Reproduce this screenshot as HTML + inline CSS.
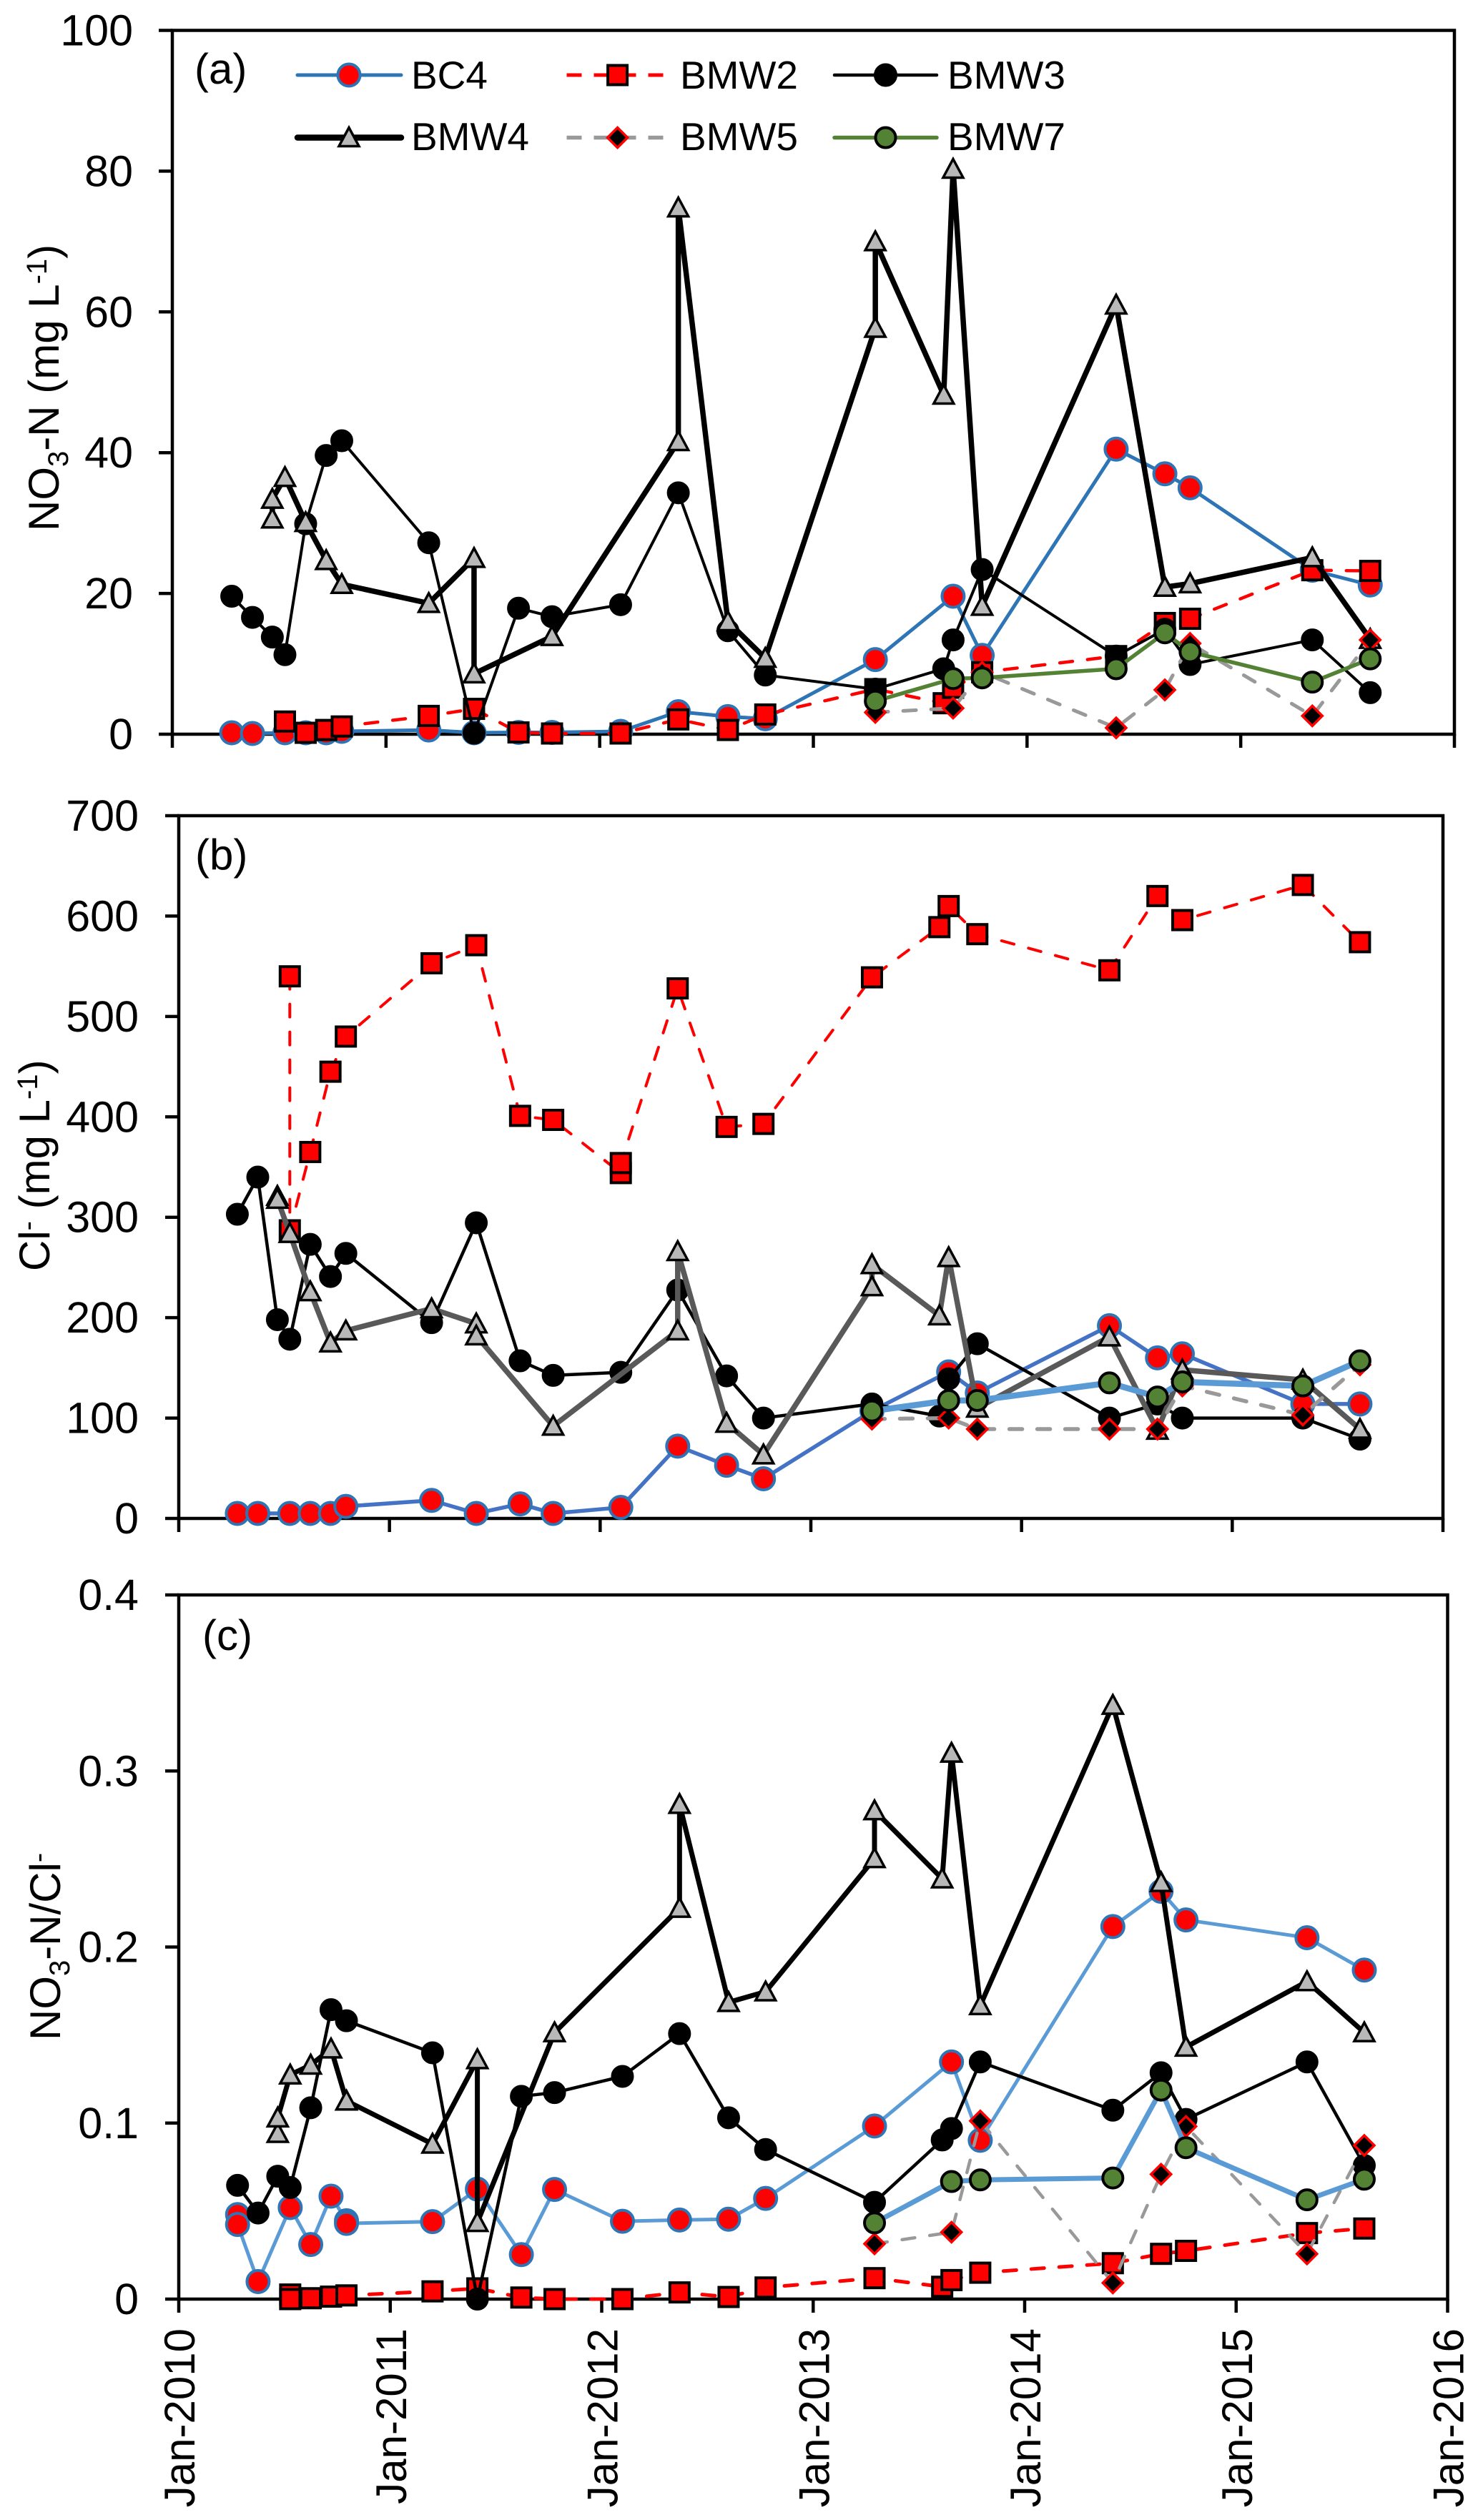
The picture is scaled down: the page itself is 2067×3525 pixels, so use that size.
<!DOCTYPE html>
<html lang="en">
<head>
<meta charset="utf-8">
<title>NO3-N and Cl time series</title>
<style>
  html, body { margin: 0; padding: 0; background: #fff; }
  svg { display: block; }
  text { font-family: "Liberation Sans", Arial, sans-serif; fill: #000; }
</style>
</head>
<body>
<svg id="chart" xmlns="http://www.w3.org/2000/svg" width="2067" height="3525" viewBox="0 0 2067 3525">
  <rect x="0" y="0" width="2067" height="3525" fill="#fff"/>

  <g id="panel-a"></g>
  <g id="panel-b"></g>
  <g id="panel-c"></g>

  <text x="272" y="117" font-size="60">(a)</text>
  <text x="273" y="1216" font-size="60">(b)</text>
  <text x="283" y="2308" font-size="60">(c)</text>

  <text transform="translate(82,743) rotate(-90)" font-size="60">NO<tspan font-size="40" dy="13">3</tspan><tspan dy="-13">-N (mg L</tspan><tspan font-size="40" dy="-17">-1</tspan><tspan dy="17">)</tspan></text>
  <text transform="translate(69,1778) rotate(-90)" font-size="60">Cl<tspan font-size="40" dy="-17">-</tspan><tspan dy="17"> (mg L</tspan><tspan font-size="40" dy="-17">-1</tspan><tspan dy="17">)</tspan></text>
  <text transform="translate(84,2854) rotate(-90)" font-size="60">NO<tspan font-size="40" dy="13">3</tspan><tspan dy="-13">-N/Cl</tspan><tspan font-size="40" dy="-17">-</tspan></text>

  <g>
    <g>
      <line x1="416" y1="105" x2="561" y2="105" stroke="#2E75B6" stroke-width="5" stroke-linecap="round"/>
      <circle cx="488" cy="105" r="15.5" fill="#f00" stroke="#2E75B6" stroke-width="4"/>
      <text x="575" y="124" font-size="55">BC4</text>
    </g>
    <g>
      <line x1="792.5" y1="105" x2="929.5" y2="105" stroke="#f00" stroke-width="5" stroke-dasharray="21 17"/>
      <rect x="850.1" y="91.5" width="27" height="27" fill="#f00" stroke="#000" stroke-width="4"/>
      <text x="951" y="124" font-size="55">BMW2</text>
    </g>
    <g>
      <line x1="1167" y1="105" x2="1310" y2="105" stroke="#000" stroke-width="4.5" stroke-linecap="round"/>
      <circle cx="1238.5" cy="105" r="15.5" fill="#000" stroke="#000" stroke-width="2"/>
      <text x="1325" y="124" font-size="55">BMW3</text>
    </g>
    <g>
      <line x1="416" y1="192.5" x2="561" y2="192.5" stroke="#000" stroke-width="8.5" stroke-linecap="round"/>
      <polygon points="488,178.5 502,204.5 474,204.5" fill="#B8B8B8" stroke="#000" stroke-width="3.5"/>
      <text x="575" y="210" font-size="55">BMW4</text>
    </g>
    <g>
      <line x1="792.5" y1="192.5" x2="929.5" y2="192.5" stroke="#999" stroke-width="5.5" stroke-dasharray="21 17"/>
      <polygon points="863.6,178.5 877.6,192.5 863.6,206.5 849.6,192.5" fill="#000" stroke="#f00" stroke-width="3.5"/>
      <text x="951" y="210" font-size="55">BMW5</text>
    </g>
    <g>
      <line x1="1167" y1="192.5" x2="1310" y2="192.5" stroke="#548235" stroke-width="5.5" stroke-linecap="round"/>
      <circle cx="1238.5" cy="192.5" r="14" fill="#548235" stroke="#000" stroke-width="4"/>
      <text x="1325" y="210" font-size="55">BMW7</text>
    </g>
  </g>
</svg>

<script>
// ---- Shared sample dates (decimal years) ----
const datesBC4 = [2010.278,2010.375,2010.527,2010.624,2010.72,2010.793,2011.2,2011.412,2011.62,2011.777,2012.098,2012.368,2012.6,2012.775,2013.29,2013.654,2013.79,2014.417,2014.645,2014.763,2015.335,2015.606];
const datesBC4C = [2010.278,2010.278,2010.375,2010.527,2010.624,2010.72,2010.793,2010.793,2011.2,2011.412,2011.62,2011.777,2012.098,2012.368,2012.6,2012.775,2013.29,2013.654,2013.79,2014.417,2014.645,2014.763,2015.335,2015.606];
const datesBMW2A = [2010.527,2010.624,2010.72,2010.793,2011.2,2011.412,2011.62,2011.777,2012.098,2012.368,2012.6,2012.775,2013.29,2013.61,2013.654,2013.79,2014.417,2014.645,2014.763,2015.335,2015.606];
const datesBMW2B = [2010.527,2010.527,2010.624,2010.72,2010.793,2011.2,2011.412,2011.62,2011.777,2012.098,2012.098,2012.368,2012.6,2012.775,2013.29,2013.61,2013.654,2013.79,2014.417,2014.645,2014.763,2015.335,2015.606];
const datesBMW2C = [2010.527,2010.527,2010.624,2010.72,2010.793,2011.2,2011.412,2011.62,2011.777,2012.098,2012.368,2012.6,2012.775,2013.29,2013.61,2013.654,2013.79,2014.417,2014.645,2014.763,2015.335,2015.606];
const datesBMW3 = [2010.278,2010.375,2010.468,2010.527,2010.624,2010.72,2010.793,2011.2,2011.412,2011.62,2011.777,2012.098,2012.368,2012.6,2012.775,2013.29,2013.61,2013.654,2013.79,2014.417,2014.645,2014.763,2015.335,2015.606];
const datesBMW4 = [2010.468,2010.468,2010.527,2010.624,2010.72,2010.793,2011.2,2011.412,2011.412,2011.777,2012.368,2012.368,2012.6,2012.775,2013.29,2013.29,2013.61,2013.654,2013.79,2014.417,2014.645,2014.763,2015.335,2015.606];
const datesBMW57 = [2013.29,2013.654,2013.79,2014.417,2014.645,2014.763,2015.335,2015.606];

// ---- Panel (a): NO3-N (mg/L) ----
const aBC4 = [0.2,0.1,0.2,0.2,0.2,0.4,0.6,0.2,0.25,0.25,0.4,3.2,2.5,2.2,10.6,19.6,11.2,40.5,37,35,23.3,21.2];
const aBMW2 = [1.8,0.2,0.6,1.1,2.6,3.6,0.25,0.1,0.1,2.1,0.6,2.8,6.4,4.4,6.6,8.8,11.1,15.8,16.4,23.3,23.2];
const aBMW3 = [19.6,16.6,13.8,11.3,29.9,39.6,41.7,27.2,0.15,17.9,16.7,18.4,34.3,14.7,8.4,6.4,9.3,13.4,23.4,11.1,14.9,9.9,13.4,5.9];
const aBMW4 = [30.6,33.4,36.5,30.1,24.7,21.3,18.6,25,8.6,13.9,41.6,74.8,16,10.8,57.7,70,48.2,80.3,18.2,61,20.9,21.4,25.1,13.5];
const aBMW5 = [3.1,3.7,8.8,0.9,6.3,12.9,2.6,13.4];
const aBMW7 = [4.7,7.9,8,9.3,14.4,11.7,7.4,10.7];

// ---- Panel (b): Cl (mg/L) ----
const bBC4 = [5,5,5,5,5,12,18,5,14.5,5,11,72,53,39.5,107,146,125,192,160,164,114,114];
const bBMW2 = [540,287,365,445,480,553,571,401,397,344,354,528,390,393,539,589,610,582,546,620,596,631,574];
const bBMW3 = [303,340,198,178.5,273,241,264,195,294.5,157,142.5,145.5,227.5,142,100,114,102,139,174,100,114,100,100,79];
const bBMW4 = [321,318,284,226,175,187,209,194,182,92,187,266,95,63.5,231,253,202,260,110,181,88,148,138,89];
const bBMW5 = [99,100,89,89,89,132,103,153];
const bBMW7 = [107,117.5,117.5,135,121,136,132,157];

// ---- Panel (c): NO3-N/Cl ratio ----
const cBC4 = [0.048,0.0424,0.00995,0.052,0.031,0.0585,0.0445,0.043,0.044,0.0625,0.0253,0.0623,0.0442,0.0449,0.0454,0.0572,0.0983,0.1347,0.0902,0.2116,0.2316,0.2154,0.2053,0.1869];
const cBMW2 = [0.0026,0,0.0005,0.0014,0.0021,0.0044,0.0061,0.0009,0,0,0.0038,0.0012,0.0066,0.0119,0.007,0.0108,0.015,0.0204,0.0257,0.0274,0.0375,0.0401];
const cBMW3 = [0.0646,0.0489,0.0698,0.0634,0.1087,0.1644,0.1581,0.1399,0,0.1152,0.1173,0.1265,0.1508,0.103,0.085,0.055,0.0904,0.0969,0.1347,0.1073,0.1286,0.1021,0.1347,0.0759];
const cBMW4 = [0.0942,0.103,0.1274,0.133,0.1422,0.1126,0.0881,0.1361,0.0436,0.1514,0.2221,0.2811,0.1686,0.1746,0.2503,0.2775,0.2388,0.3102,0.1668,0.3374,0.2367,0.1432,0.1804,0.1514];
const cBMW5 = [0.0314,0.038,0.1012,0.0092,0.0709,0.0981,0.0257,0.0873];
const cBMW7 = [0.0433,0.0668,0.0677,0.0688,0.1187,0.086,0.0564,0.0681];

// ---- Tick labels ----
const xTickYears = [2010,2011,2012,2013,2014,2015,2016];
const xTickLabels = ['Jan-2010','Jan-2011','Jan-2012','Jan-2013','Jan-2014','Jan-2015','Jan-2016'];
const aYTicks = [0,20,40,60,80,100];
const bYTicks = [0,100,200,300,400,500,600,700];
const cYTicks = [0,0.1,0.2,0.3,0.4];
const cYTickLabels = ['0','0.1','0.2','0.3','0.4'];

const NS = 'http://www.w3.org/2000/svg';

function make(tag, attrs, parent) {
  const node = document.createElementNS(NS, tag);
  for (const k in attrs) node.setAttribute(k, attrs[k]);
  parent.appendChild(node);
  return node;
}

function drawMarker(kind, cx, cy, parent) {
  if (kind === 'ring') {
    return make('circle', {cx: cx, cy: cy, r: 15.5, fill: '#f00', stroke: '#2E75B6', 'stroke-width': 4}, parent);
  }
  if (kind === 'black') {
    return make('circle', {cx: cx, cy: cy, r: 15, fill: '#000', stroke: '#000', 'stroke-width': 2}, parent);
  }
  if (kind === 'green') {
    return make('circle', {cx: cx, cy: cy, r: 14, fill: '#548235', stroke: '#000', 'stroke-width': 4}, parent);
  }
  if (kind === 'square') {
    return make('rect', {x: cx - 13.5, y: cy - 13.5, width: 27, height: 27, fill: '#f00', stroke: '#000', 'stroke-width': 4}, parent);
  }
  if (kind === 'triangle') {
    return make('polygon', {points: cx + ',' + (cy - 14) + ' ' + (cx + 14) + ',' + (cy + 12) + ' ' + (cx - 14) + ',' + (cy + 12), fill: '#B8B8B8', stroke: '#000', 'stroke-width': 3.5}, parent);
  }
  return make('polygon', {points: cx + ',' + (cy - 14) + ' ' + (cx + 14) + ',' + cy + ' ' + cx + ',' + (cy + 14) + ' ' + (cx - 14) + ',' + cy, fill: '#000', stroke: '#f00', 'stroke-width': 3.5}, parent);
}

function drawPanel(panel) {
  const root = document.getElementById(panel.id);
  const xScale = function (d) { return panel.left + (d - 2010) / 6 * (panel.right - panel.left); };
  const yScale = function (v) { return panel.bottom - (v - panel.yMin) / (panel.yMax - panel.yMin) * (panel.bottom - panel.top); };

  const frame = make('path', {d: 'M' + panel.left + ' ' + panel.top + 'H' + panel.right + 'V' + panel.bottom + 'H' + panel.left + 'Z', fill: 'none', stroke: '#000', 'stroke-width': 4.5}, root);
  
  

  panel.yTicks.forEach(function (v, i) {
    const y = yScale(v);
    const tick = make('line', {x1: panel.left - 19, x2: panel.left, y1: y, y2: y, stroke: '#000', 'stroke-width': 4.5}, root);
    
    
    const label = make('text', {x: panel.labelRight, y: y + 21, 'font-size': 61, 'text-anchor': 'end'}, root);
    
    
    label.textContent = panel.yLabels[i];
  });

  xTickYears.forEach(function (yr, i) {
    const x = xScale(yr);
    const tick = make('line', {x1: x, x2: x, y1: panel.bottom, y2: panel.bottom + 19, stroke: '#000', 'stroke-width': 4.5}, root);
    
    
    if (panel.showXLabels) {
      const label = make('text', {transform: 'translate(' + (x + 22) + ',' + (panel.bottom + 41) + ') rotate(-90)', 'font-size': 60, 'text-anchor': 'end'}, root);
      
      
      label.textContent = xTickLabels[i];
    }
  });

  panel.series.forEach(function (s) {
    const group = make('g', {}, root);
    
    
    const pts = s.values.map(function (v, i) { return xScale(s.dates[i]) + ',' + yScale(v); }).join(' ');
    const attrs = {points: pts, fill: 'none', stroke: s.color, 'stroke-width': s.width, 'stroke-linejoin': 'round'};
    if (s.dashed) {
      attrs['stroke-dasharray'] = '18 21';
      attrs['stroke-linecap'] = 'round';
    }
    const line = make('polyline', attrs, group);
    
    
    s.values.forEach(function (v, i) {
      const mark = drawMarker(s.marker, xScale(s.dates[i]), yScale(v), group);
      
      
    });
  });
}

drawPanel({
  id: 'panel-a', left: 241, right: 2034, top: 42.5, bottom: 1027, yMin: 0, yMax: 100, labelRight: 186, showXLabels: false,
  yTicks: aYTicks, yLabels: aYTicks.map(String),
  series: [
    {name: 'bc4', dates: datesBC4, values: aBC4, marker: 'ring', color: '#2E75B6', width: 5},
    {name: 'bmw2', dates: datesBMW2A, values: aBMW2, marker: 'square', color: '#f00', width: 4.5, dashed: true},
    {name: 'bmw3', dates: datesBMW3, values: aBMW3, marker: 'black', color: '#000', width: 4},
    {name: 'bmw4', dates: datesBMW4, values: aBMW4, marker: 'triangle', color: '#000', width: 7.5},
    {name: 'bmw5', dates: datesBMW57, values: aBMW5, marker: 'diamond', color: '#999', width: 5, dashed: true},
    {name: 'bmw7', dates: datesBMW57, values: aBMW7, marker: 'green', color: '#548235', width: 5.5}
  ]
});

drawPanel({
  id: 'panel-b', left: 250, right: 2018, top: 1141, bottom: 2124, yMin: 0, yMax: 700, labelRight: 194, showXLabels: false,
  yTicks: bYTicks, yLabels: bYTicks.map(String),
  series: [
    {name: 'bc4', dates: datesBC4, values: bBC4, marker: 'ring', color: '#4472C4', width: 5.5},
    {name: 'bmw2', dates: datesBMW2B, values: bBMW2, marker: 'square', color: '#f00', width: 4, dashed: true},
    {name: 'bmw3', dates: datesBMW3, values: bBMW3, marker: 'black', color: '#000', width: 4.5},
    {name: 'bmw4', dates: datesBMW4, values: bBMW4, marker: 'triangle', color: '#595959', width: 7.5},
    {name: 'bmw5', dates: datesBMW57, values: bBMW5, marker: 'diamond', color: '#999', width: 5.5, dashed: true},
    {name: 'bmw7', dates: datesBMW57, values: bBMW7, marker: 'green', color: '#5B9BD5', width: 8.5}
  ]
});

drawPanel({
  id: 'panel-c', left: 250, right: 2024.5, top: 2231, bottom: 3216, yMin: 0, yMax: 0.4, labelRight: 194, showXLabels: true,
  yTicks: cYTicks, yLabels: cYTickLabels,
  series: [
    {name: 'bc4', dates: datesBC4C, values: cBC4, marker: 'ring', color: '#5B9BD5', width: 5},
    {name: 'bmw2', dates: datesBMW2C, values: cBMW2, marker: 'square', color: '#f00', width: 5, dashed: true},
    {name: 'bmw3', dates: datesBMW3, values: cBMW3, marker: 'black', color: '#000', width: 4.5},
    {name: 'bmw4', dates: datesBMW4, values: cBMW4, marker: 'triangle', color: '#000', width: 7},
    {name: 'bmw5', dates: datesBMW57, values: cBMW5, marker: 'diamond', color: '#999', width: 4.5, dashed: true},
    {name: 'bmw7', dates: datesBMW57, values: cBMW7, marker: 'green', color: '#5B9BD5', width: 7}
  ]
});
</script>
</body>
</html>
